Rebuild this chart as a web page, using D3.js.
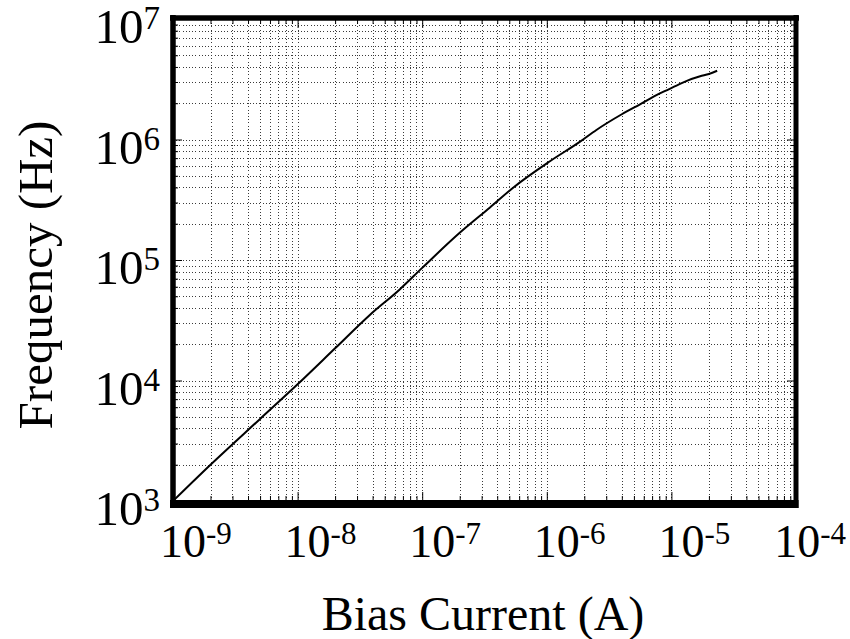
<!DOCTYPE html>
<html>
<head>
<meta charset="utf-8">
<script src="https://cdn.jsdelivr.net/npm/d3@7"></script>
<style>
  html, body { margin: 0; padding: 0; background: #fff; }
  svg { display: block; }
  text { font-family: "Liberation Serif", "Times New Roman", Times, serif; fill: #000; }
</style>
</head>
<body>
<svg id="chart" width="850" height="639"></svg>
<script>
// ---- data ----
const current = [1e-9, 2e-9, 5e-9, 1e-8, 2e-8, 3.8e-8, 6.6e-8, 1e-7, 2e-7, 3.5e-7, 5.4e-7,
                 1.06e-6, 1.85e-6, 2.5e-6, 4e-6, 5.6e-6, 8e-6, 1.1e-5, 1.33e-5, 1.7e-5, 2.0e-5, 2.33e-5];
const frequency = [1.0e3, 2.0e3, 4.8e3, 9.3e3, 1.85e4, 3.5e4, 5.7e4, 8.6e4, 1.68e5, 2.73e5, 4.0e5,
                   6.6e5, 9.6e5, 1.2e6, 1.62e6, 1.96e6, 2.4e6, 2.8e6, 3.07e6, 3.35e6, 3.5e6, 3.72e6];
const xTickExps = [-9, -8, -7, -6, -5, -4];
const yTickExps = [3, 4, 5, 6, 7];
const xTitle = "Bias Current (A)";
const yTitle = "Frequency (Hz)";

// ---- layout ----
const W = 850;
const L = 173, R = 796, T = 19, B = 501;
const svg = d3.select("#chart");

const x = d3.scaleLog().domain([1e-9, 1e-4]).range([L, R]);
const y = d3.scaleLog().domain([1e3, 1e7]).range([B, T]);

function allTicks(e0, e1) {
  const out = [];
  for (let e = e0; e < e1; e++) for (let m = 1; m <= 9; m++) out.push(m * Math.pow(10, e));
  out.push(Math.pow(10, e1));
  return out;
}
const xAll = allTicks(-9, -4);
const yAll = allTicks(3, 7);
const xMajor = xTickExps.map(e => Math.pow(10, e));
const yMajor = yTickExps.map(e => Math.pow(10, e));

// ---- grid ----
const gridX = svg.append("g").attr("transform", `translate(0,${B})`)
  .call(d3.axisBottom(x).tickValues(xAll).tickSize(-(B - T)).tickFormat(""));
const gridY = svg.append("g").attr("transform", `translate(${L},0)`)
  .call(d3.axisLeft(y).tickValues(yAll).tickSize(-(R - L)).tickFormat(""));
[gridX, gridY].forEach(g => {
  g.select(".domain").remove();
  g.selectAll(".tick line").attr("stroke", "#3a3a3a").attr("stroke-width", 1)
    .attr("stroke-dasharray", "1,2.2").attr("shape-rendering", "crispEdges");
});

// ---- tick marks (inward, all four sides) ----
function tickAxis(axisFn, scale, vals, size, tr) {
  const g = svg.append("g").attr("transform", tr)
    .call(axisFn(scale).tickValues(vals).tickSize(size).tickFormat(""));
  g.select(".domain").remove();
  g.selectAll(".tick line").attr("stroke", "#000").attr("stroke-width", 1);
  return g;
}
const xMinor = xAll.filter(v => !xMajor.includes(v));
const yMinor = yAll.filter(v => !yMajor.includes(v));
tickAxis(d3.axisBottom, x, xMinor, -5, `translate(0,${B})`);
tickAxis(d3.axisBottom, x, xMajor, -9, `translate(0,${B})`);
tickAxis(d3.axisTop, x, xMinor, -5, `translate(0,${T})`);
tickAxis(d3.axisTop, x, xMajor, -9, `translate(0,${T})`);
tickAxis(d3.axisLeft, y, yMinor, -5, `translate(${L},0)`);
tickAxis(d3.axisLeft, y, yMajor, -9, `translate(${L},0)`);
tickAxis(d3.axisRight, y, yMinor, -5, `translate(${R},0)`);
tickAxis(d3.axisRight, y, yMajor, -9, `translate(${R},0)`);

// ---- data line ----
const line = d3.line().x((d, i) => x(current[i])).y((d, i) => y(frequency[i])).curve(d3.curveMonotoneX);
svg.append("path").datum(current)
  .attr("d", line)
  .attr("fill", "none").attr("stroke", "#000").attr("stroke-width", 2)
  .attr("stroke-linejoin", "round");

// ---- frame ----
svg.append("line").attr("x1", L - 3).attr("x2", R + 3).attr("y1", T - 1).attr("y2", T - 1)
  .attr("stroke", "#000").attr("stroke-width", 5.5);
svg.append("line").attr("x1", L).attr("x2", L).attr("y1", T - 4).attr("y2", B + 7)
  .attr("stroke", "#000").attr("stroke-width", 5.5);
svg.append("line").attr("x1", R).attr("x2", R).attr("y1", T - 4).attr("y2", B + 7)
  .attr("stroke", "#000").attr("stroke-width", 5);
svg.append("line").attr("x1", L - 3).attr("x2", R + 2.5).attr("y1", B + 3).attr("y2", B + 3)
  .attr("stroke", "#000").attr("stroke-width", 8);

// ---- tick labels ----
const xLab = svg.append("g").selectAll("text").data(xTickExps).join("text")
  .attr("y", 557)
  .attr("text-anchor", "start")
  .style("font-size", "46px");
xLab.append("tspan").text("10");
xLab.append("tspan").attr("dy", -13).style("font-size", "31px").text(d => String(d));
xLab.attr("x", function (d) {
  const w = this.getComputedTextLength();
  return Math.min(x(Math.pow(10, d)) - 13, W - w - 4);
});

const yLab = svg.append("g").selectAll("text").data(yTickExps).join("text")
  .attr("x", L - 13)
  .attr("y", d => y(Math.pow(10, d)) + 24)
  .attr("text-anchor", "end")
  .style("font-size", "49px");
yLab.append("tspan").text("10");
yLab.append("tspan").attr("dy", -14).style("font-size", "33px").text(d => String(d));

// ---- axis titles ----
svg.append("text").attr("x", 483).attr("y", 630).attr("text-anchor", "middle")
  .style("font-size", "48px").text(xTitle);
svg.append("text").attr("transform", "translate(52,275) rotate(-90)")
  .attr("text-anchor", "middle").style("font-size", "49px").text(yTitle);
</script>
</body>
</html>
